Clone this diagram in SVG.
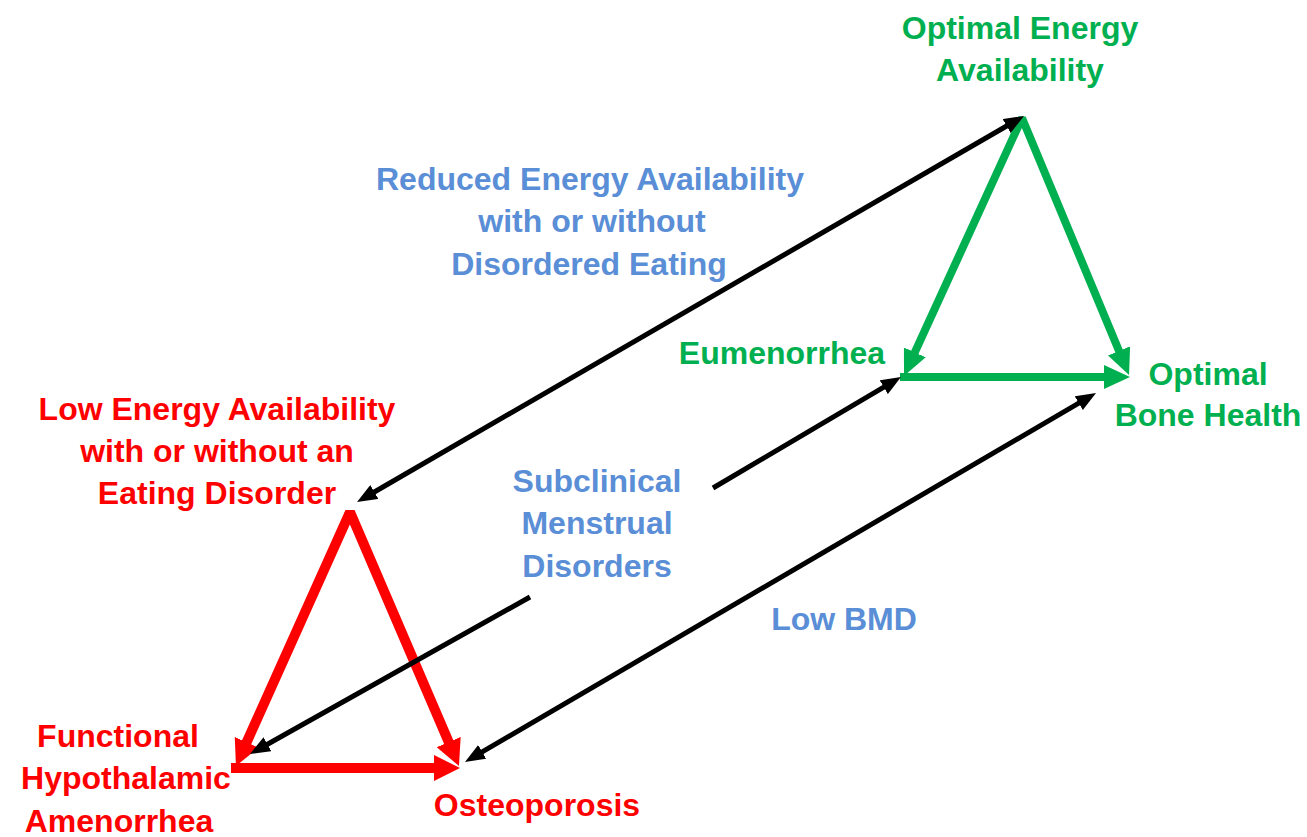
<svg xmlns="http://www.w3.org/2000/svg" width="1307" height="837" viewBox="0 0 1307 837">
<style>
text{font-family:"Liberation Sans",Arial,sans-serif;font-weight:bold;font-size:32px;text-anchor:middle}
.g{fill:#00B050}.r{fill:#FF0000}.b{fill:#5A8ED6}
.rl{stroke:#FF0000;stroke-width:10;fill:none;stroke-linejoin:bevel}
.gl{stroke:#00B050;stroke-width:8;fill:none;stroke-linejoin:bevel}
.kl{stroke:#000;stroke-width:5;fill:none}
</style>
<defs>
<marker id="ar" markerUnits="userSpaceOnUse" markerWidth="26" markerHeight="26" refX="2" refY="13" orient="auto-start-reverse"><path d="M0,0 L26,13 L0,26 z" fill="#FF0000"/></marker>
<marker id="ag" markerUnits="userSpaceOnUse" markerWidth="26" markerHeight="24" refX="2" refY="12" orient="auto-start-reverse"><path d="M0,0 L26,12 L0,24 z" fill="#00B050"/></marker>
<marker id="ak" markerUnits="userSpaceOnUse" markerWidth="20" markerHeight="16" refX="2" refY="8" orient="auto-start-reverse"><path d="M0,0 L20,8 L0,16 z" fill="#000"/></marker>
</defs>
<rect width="1307" height="837" fill="#fff"/>
<g id="connectors">
<path class="rl" d="M245.8,744.1 L350,512 L449.5,743.9" marker-start="url(#ar)" marker-end="url(#ar)"/>
<path class="rl" d="M231,768 L436,768" marker-end="url(#ar)"/>
<path class="gl" d="M914,354.2 L1022,118 L1119.8,352.8" marker-start="url(#ag)" marker-end="url(#ag)"/>
<path class="gl" d="M900,377 L1106,377" marker-end="url(#ag)"/>
<path class="kl" d="M372.6,493 L1008.4,125" marker-start="url(#ak)" marker-end="url(#ak)"/>
<path class="kl" d="M713,488 L885.5,386.2" marker-end="url(#ak)"/>
<path class="kl" d="M530,597 L265.7,745.2" marker-end="url(#ak)"/>
<path class="kl" d="M480.5,752.9 L1080.5,402.1" marker-start="url(#ak)" marker-end="url(#ak)"/>
</g>
<g id="optimal-energy"><text class="g" x="1020" y="39">Optimal Energy</text><text class="g" x="1020" y="81">Availability</text></g>
<g id="reduced-energy"><text class="b" x="590" y="190">Reduced Energy Availability</text><text class="b" x="592" y="232">with or without</text><text class="b" x="589" y="275">Disordered Eating</text></g>
<g id="eumenorrhea"><text class="g" x="782" y="364">Eumenorrhea</text></g>
<g id="optimal-bone"><text class="g" x="1208" y="385">Optimal</text><text class="g" x="1208" y="426">Bone Health</text></g>
<g id="low-energy"><text class="r" x="217" y="420">Low Energy Availability</text><text class="r" x="217" y="462">with or without an</text><text class="r" x="217" y="504">Eating Disorder</text></g>
<g id="subclinical"><text class="b" x="597" y="492">Subclinical</text><text class="b" x="597" y="534">Menstrual</text><text class="b" x="597" y="577">Disorders</text></g>
<g id="low-bmd"><text class="b" x="844" y="630">Low BMD</text></g>
<g id="fha"><text class="r" x="118" y="747">Functional</text><text class="r" x="126" y="789">Hypothalamic</text><text class="r" x="119" y="832">Amenorrhea</text></g>
<g id="osteoporosis"><text class="r" x="537" y="816">Osteoporosis</text></g>
</svg>
